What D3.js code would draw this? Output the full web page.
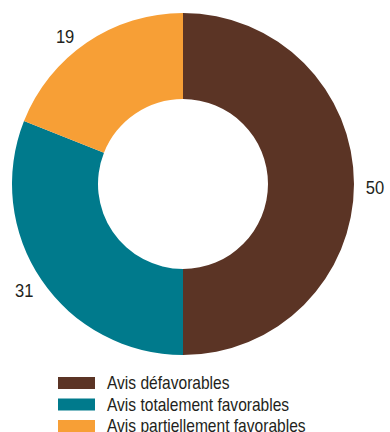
<!DOCTYPE html>
<html>
<head>
<meta charset="utf-8">
<script src="https://cdn.jsdelivr.net/npm/d3@7"></script>
<style>
  html, body { margin: 0; padding: 0; background: #fff; }
  svg { display: block; }
  text { font-family: "Liberation Sans", Arial, sans-serif; fill: #231f20; }
</style>
</head>
<body>
<svg id="chart" width="390" height="432"></svg>
<script>
// Répartition des avis
const categories = ["Avis défavorables", "Avis totalement favorables", "Avis partiellement favorables"];
const values = [50, 31, 19];
const colors = ["#5b3425", "#007a8c", "#f79f36"];

const svg = d3.select("#chart");
const cx = 183, cy = 184;
const outerR = 171, innerR = 85, labelR = 192;

const data = categories.map((c, i) => ({ name: c, value: values[i], color: colors[i] }));

const pie = d3.pie().value(d => d.value).sort(null);
const arc = d3.arc().innerRadius(innerR).outerRadius(outerR);
const labelArc = d3.arc().innerRadius(labelR).outerRadius(labelR);

const g = svg.append("g").attr("transform", `translate(${cx},${cy})`);
const arcs = pie(data);

g.selectAll("path.slice")
  .data(arcs)
  .join("path")
  .attr("class", "slice")
  .attr("d", arc)
  .attr("fill", d => d.data.color);

// Valeurs autour de l'anneau (texte légèrement condensé)
g.selectAll("text.val")
  .data(arcs)
  .join("text")
  .attr("class", "val")
  .attr("transform", d => {
    const [x, y] = labelArc.centroid(d);
    // les étiquettes du quart supérieur gauche sont décalées vers l'extérieur du tracé
    const upperLeft = x < 0 && y < 0;
    const lowerLeft = x < 0 && y > 0;
    return `translate(${upperLeft ? x - 10 : x},${upperLeft ? y + 8 : lowerLeft ? y - 5 : y}) scale(0.92,1)`;
  })
  .attr("text-anchor", "middle")
  .attr("dy", "0.55em")
  .style("font-size", "18px")
  .text(d => d.data.value);

// Légende
const legend = svg.append("g").attr("transform", "translate(58,377)");
const row = legend.selectAll("g")
  .data(data)
  .join("g")
  .attr("transform", (d, i) => `translate(0,${i * 21.5})`);

row.append("rect")
  .attr("width", 37)
  .attr("height", 12)
  .attr("fill", d => d.color);

row.append("text")
  .attr("transform", "translate(49,12) scale(0.865,1)")
  .style("font-size", "18px")
  .text(d => d.name);
</script>
</body>
</html>
